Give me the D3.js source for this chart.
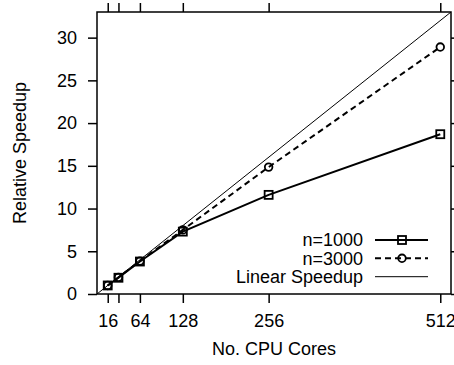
<!DOCTYPE html>
<html>
<head>
<meta charset="utf-8">
<script src="https://cdn.jsdelivr.net/npm/d3@7/dist/d3.min.js"></script>
<style>
  html, body { margin: 0; padding: 0; background: #fff; }
  svg { display: block; font-family: "Liberation Sans", Arial, Helvetica, sans-serif; }
</style>
</head>
<body>
<svg id="chart" width="454" height="365"></svg>
<script>
// Core counts and measured speedups
const cores = [16, 32, 64, 128, 256, 512];
const speedupN1000 = [1, 1.9, 3.8, 7.3, 11.6, 18.7];
const speedupN3000 = [1, 1.95, 3.85, 7.5, 14.85, 28.9];
const xTickValues = [16, 32, 64, 128, 256, 512];
const xTickLabels = ["16", "", "64", "128", "256", "512"];
const yTickValues = [0, 5, 10, 15, 20, 25, 30];
const seriesNames = ["n=1000", "n=3000", "Linear Speedup"];

const svg = d3.select("#chart");
const margin = { left: 97, right: 3, top: 12, bottom: 71 };
const W = 454, H = 365;
const x = d3.scaleLinear().domain([0, 528]).range([margin.left, W - margin.right]);
const y = d3.scaleLinear().domain([0, 33]).range([H - margin.bottom, margin.top]);

const tickLen = 9;
const fontSize = 18;

// Axes (ticks outward, mirrored on top/right)
const axisB = svg.append("g").attr("transform", `translate(0,${y(0)})`)
  .call(d3.axisBottom(x).tickValues(xTickValues).tickSize(tickLen).tickPadding(11)
    .tickFormat((d, i) => xTickLabels[i]));
const axisT = svg.append("g").attr("transform", `translate(0,${y(33)})`)
  .call(d3.axisTop(x).tickValues(xTickValues).tickSize(tickLen).tickFormat(""));
const axisL = svg.append("g").attr("transform", `translate(${x(0)},0)`)
  .call(d3.axisLeft(y).tickValues(yTickValues).tickSize(tickLen).tickPadding(11));
const axisR = svg.append("g").attr("transform", `translate(${x(528)},0)`)
  .call(d3.axisRight(y).tickValues(yTickValues).tickSize(tickLen).tickFormat(""));

[axisB, axisT, axisL, axisR].forEach(g => {
  g.select(".domain").remove();
  g.selectAll(".tick line").attr("stroke", "#000").attr("stroke-width", 1.5);
  g.selectAll(".tick text").attr("fill", "#000").attr("font-size", fontSize)
    .attr("font-family", "Liberation Sans, Arial, sans-serif");
});

// Plot frame
svg.append("rect")
  .attr("x", x(0)).attr("y", y(33))
  .attr("width", x(528) - x(0)).attr("height", y(0) - y(33))
  .attr("fill", "none").attr("stroke", "#000").attr("stroke-width", 1.5);

// Axis titles
svg.append("text")
  .attr("x", (x(0) + x(528)) / 2).attr("y", 355)
  .attr("text-anchor", "middle").attr("font-size", fontSize)
  .text("No. CPU Cores");
svg.append("text")
  .attr("transform", `translate(26,${(y(0) + y(33)) / 2}) rotate(-90)`)
  .attr("text-anchor", "middle").attr("font-size", fontSize)
  .text("Relative Speedup");

// Clip to plot area
svg.append("clipPath").attr("id", "plotclip").append("rect")
  .attr("x", x(0)).attr("y", y(33))
  .attr("width", x(528) - x(0)).attr("height", y(0) - y(33));
const plot = svg.append("g").attr("clip-path", "url(#plotclip)");

// Linear speedup reference
plot.append("line")
  .attr("x1", x(0)).attr("y1", y(0))
  .attr("x2", x(528)).attr("y2", y(528 / 16))
  .attr("stroke", "#000").attr("stroke-width", 1);

const line = d3.line().x(d => x(d[0])).y(d => y(d[1]));
const pts1000 = cores.map((c, i) => [c, speedupN1000[i]]);
const pts3000 = cores.map((c, i) => [c, speedupN3000[i]]);

plot.append("path").datum(pts3000).attr("d", line)
  .attr("fill", "none").attr("stroke", "#000").attr("stroke-width", 2)
  .attr("stroke-dasharray", "6,4");
plot.append("path").datum(pts1000).attr("d", line)
  .attr("fill", "none").attr("stroke", "#000").attr("stroke-width", 2);

function square(g, cx, cy) {
  g.append("rect").attr("x", cx - 4).attr("y", cy - 4).attr("width", 8).attr("height", 8)
    .attr("fill", "none").attr("stroke", "#000").attr("stroke-width", 1.8);
}
function circle(g, cx, cy) {
  g.append("circle").attr("cx", cx).attr("cy", cy).attr("r", 3.8)
    .attr("fill", "none").attr("stroke", "#000").attr("stroke-width", 1.8);
}
pts3000.forEach(d => circle(svg, x(d[0]), y(d[1])));
pts1000.forEach(d => square(svg, x(d[0]), y(d[1])));

// Legend
const legend = svg.append("g");
const rowsY = [240, 258.3, 276.7];
const textX = 363, lineX1 = 375, lineX2 = 428, markX = 402;
seriesNames.forEach((name, i) => {
  legend.append("text").attr("x", textX).attr("y", rowsY[i]).attr("dy", "0.35em")
    .attr("text-anchor", "end").attr("font-size", fontSize).text(name);
  const l = legend.append("line")
    .attr("x1", lineX1).attr("x2", lineX2).attr("y1", rowsY[i]).attr("y2", rowsY[i])
    .attr("stroke", "#000").attr("stroke-width", i === 2 ? 1 : 2);
  if (i === 1) l.attr("stroke-dasharray", "6,4");
});
square(legend, markX, rowsY[0]);
circle(legend, markX, rowsY[1]);
</script>
</body>
</html>
